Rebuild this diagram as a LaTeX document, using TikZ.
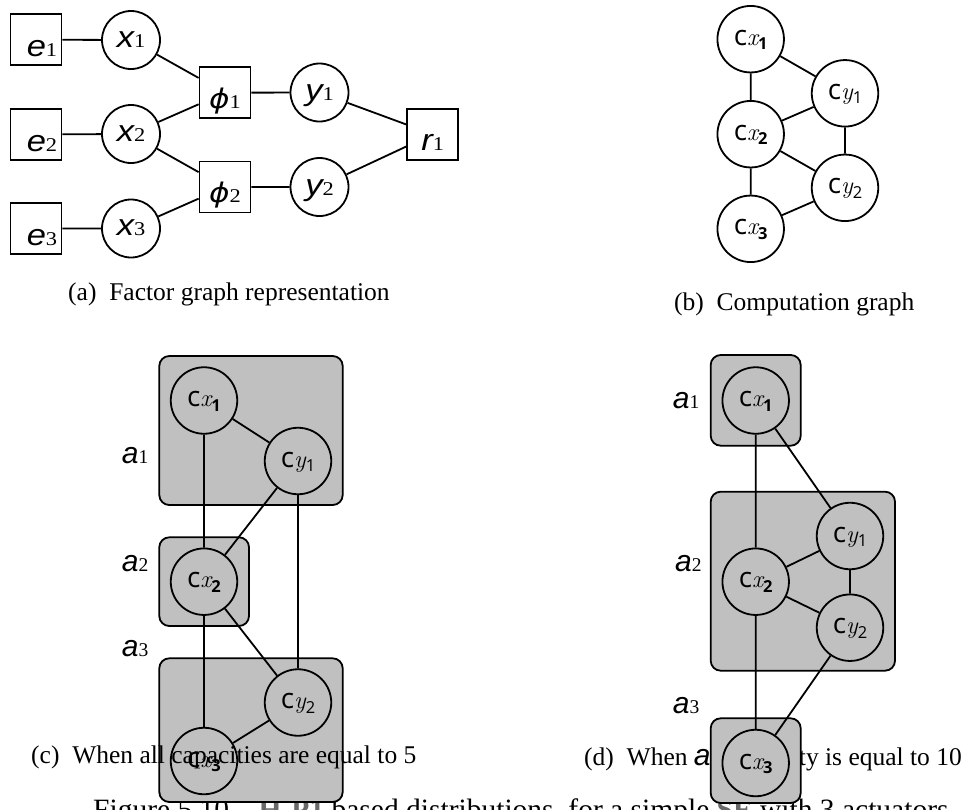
\documentclass[tikz,border=0pt]{standalone}
\usepackage{graphicx}
\usepackage{fontspec}
\newfontfamily\capfont{Liberation Serif}
\newfontfamily\lblfont{Liberation Sans}
\newfontfamily\cfont{Open Sans}
\newfontfamily\djv{DejaVu Sans}
\definecolor{boxgray}{RGB}{192,192,192}
\definecolor{linkgray}{RGB}{105,105,105}
\newcommand\fgl[3]{\raisebox{-#3pt}[0pt][0pt]{\scalebox{1.15}[1]{{\fontsize{30}{30}\selectfont\lblfont\itshape #1}{\fontsize{19.5}{19.5}\selectfont\capfont #2}}}}
\newcommand\cl[3]{\raisebox{-6pt}[0pt][0pt]{{\fontsize{28}{28}\selectfont\cfont c}{\fontsize{24.5}{24.5}\selectfont\itshape #1}\raisebox{-4.5pt}{\fontsize{16.5}{16.5}\selectfont\cfont#3#2}}}
\newcommand\al[1]{{\fontsize{30}{30}\selectfont\lblfont\itshape a}{\fontsize{19.5}{19.5}\selectfont\capfont #1}}
\tikzset{
  fnode/.style={draw, line width=1.8pt, inner sep=0pt, minimum size=51pt},
  vnode/.style={draw, circle, line width=1.8pt, inner sep=0pt, minimum size=58pt},
  cnode/.style={draw, circle, line width=1.8pt, inner sep=0pt, minimum size=66.5pt},
  agent/.style={draw, fill=boxgray, rounded corners=10pt, line width=1.8pt},
  edge/.style={line width=1.8pt},
  captxt/.style={inner sep=0pt, font=\fontsize{25.5}{25.5}\selectfont\capfont},
  alab/.style={anchor=base west, inner sep=0pt},
}
\begin{document}
\begin{tikzpicture}[x=1pt,y=-1pt]
\useasboundingbox[fill=white] (0,0) rectangle (966,809);

% bottom figure caption (partly hidden)
\node[anchor=base west, inner sep=0pt, font=\fontsize{29.5}{29.5}\selectfont\capfont] (figcap) at (93,819.5)
  {Figure 5.10 – {\color{linkgray}\bfseries H-P1} based distributions, for a simple {\color{linkgray}\bfseries SE} with 3 actuators};
% caption (d), partly hidden
\node[captxt, anchor=base east] (capd) at (962,765) {(d)\enspace When {\fontsize{30}{30}\selectfont\lblfont\itshape a}{\fontsize{19.5}{19.5}\selectfont 3}\hspace{7pt} capacity is equal to 10};

% ---------- (a) factor graph ----------
\node[fnode] (e1) at (36,39.7) {\hspace*{12pt}\fgl{e}{1}{17}};
\node[fnode] (e2) at (36,134.4) {\hspace*{12pt}\fgl{e}{2}{17}};
\node[fnode] (e3) at (36,228.5) {\hspace*{12pt}\fgl{e}{3}{17}};
\node[vnode] (x1) at (131,40) {\fgl{x}{1}{7}};
\node[vnode] (x2) at (131,134) {\fgl{x}{2}{7}};
\node[vnode] (x3) at (131,228.5) {\fgl{x}{3}{7}};
\node[fnode] (p1) at (225,92.7) {\fgl{\djv\fontsize{27}{27}\selectfont ϕ}{1}{15.6}};
\node[fnode] (p2) at (225,187) {\fgl{\djv\fontsize{27}{27}\selectfont ϕ}{2}{15.6}};
\node[vnode] (y1) at (319.5,92.5) {\fgl{y}{1}{8}};
\node[vnode] (y2) at (319.5,187) {\fgl{y}{2}{8}};
\node[fnode] (r1) at (432.7,134.2) {\fgl{r}{1}{16}};
\draw[edge] (e1)--(x1) (e2)--(x2) (e3)--(x3);
\draw[edge] (x1)--(p1) (x2)--(p1) (x2)--(p2) (x3)--(p2);
\draw[edge] (p1)--(y1) (p2)--(y2) (y1)--(r1) (y2)--(r1);
\node[captxt, anchor=base west] (capa) at (68,300) {(a)\enspace Factor graph representation};

% ---------- (b) computation graph ----------
\node[cnode] (bx1) at (750.7,39.2) {\cl{x}{1}{\bfseries}};
\node[cnode] (by1) at (845,93.3) {\cl{y}{1}{}};
\node[cnode] (bx2) at (750.7,134.2) {\cl{x}{2}{\bfseries}};
\node[cnode] (by2) at (845,187.8) {\cl{y}{2}{}};
\node[cnode] (bx3) at (750.7,228.8) {\cl{x}{3}{\bfseries}};
\draw[edge] (bx1)--(by1) (bx1)--(bx2) (bx2)--(by1) (bx2)--(by2) (bx2)--(bx3) (by1)--(by2) (bx3)--(by2);
\node[captxt, anchor=base west] (capb) at (674,310) {(b)\enspace Computation graph};

% ---------- (c) all capacities 5 ----------
\draw[agent] (159.3,356) rectangle (342.7,505);
\draw[agent] (159.3,537.3) rectangle (249,626);
\draw[agent] (159.3,658.3) rectangle (342.7,802);
\node[cnode] (cx1) at (204,400.5) {\cl{x}{1}{\bfseries}};
\node[cnode] (cy1) at (298,461) {\cl{y}{1}{}};
\node[cnode] (cx2) at (204,581.7) {\cl{x}{2}{\bfseries}};
\node[cnode] (cy2) at (298,702.5) {\cl{y}{2}{}};
\node[cnode] (cx3) at (204,761) {\cl{x}{3}{\bfseries}};
\draw[edge] (cx1)--(cy1) (cx1)--(cx2) (cy1)--(cx2) (cy1)--(cy2) (cx2)--(cy2) (cx2)--(cx3) (cy2)--(cx3);
\node[alab] (ca1) at (121.7,463.3) {\al{1}};
\node[alab] (ca2) at (121.7,571.7) {\al{2}};
\node[alab] (ca3) at (121.7,656.7) {\al{3}};

% ---------- (d) a3 capacity 10 ----------
\draw[agent] (710.7,355) rectangle (800.7,445.7);
\draw[agent] (710.7,491.7) rectangle (895,670.7);
\draw[agent] (710.7,718.3) rectangle (800.7,803);
\node[cnode] (dx1) at (755.7,400.5) {\cl{x}{1}{\bfseries}};
\node[cnode] (dy1) at (850,536) {\cl{y}{1}{}};
\node[cnode] (dx2) at (755.7,581.7) {\cl{x}{2}{\bfseries}};
\node[cnode] (dy2) at (850,627.7) {\cl{y}{2}{}};
\node[cnode] (dx3) at (755.7,763) {\cl{x}{3}{\bfseries}};
\draw[edge] (dx1)--(dy1) (dx1)--(dx2) (dx2)--(dy1) (dx2)--(dy2) (dy1)--(dy2) (dx2)--(dx3) (dy2)--(dx3);
\node[alab] (da1) at (672.7,408.3) {\al{1}};
\node[alab] (da2) at (675,571.7) {\al{2}};
\node[alab] (da3) at (672.7,713) {\al{3}};

% caption (c) drawn on top
\node[captxt, anchor=base west] (capc) at (31,763) {(c)\enspace When all capacities are equal to 5};
\end{tikzpicture}
\end{document}
